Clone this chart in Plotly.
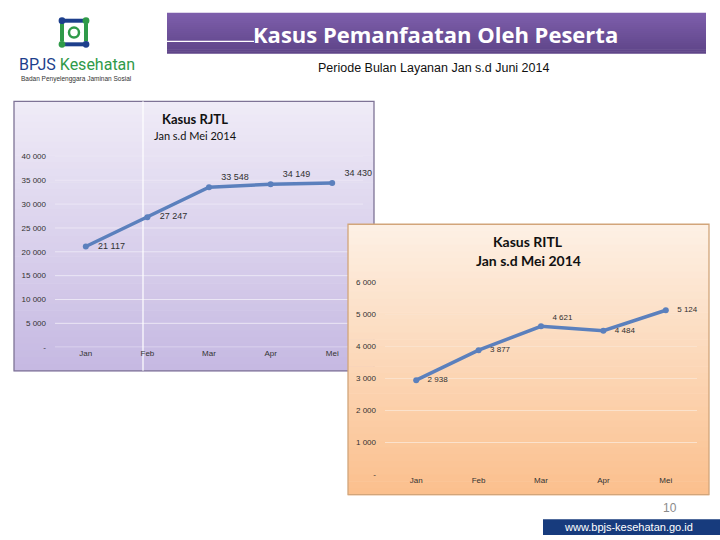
import plotly.graph_objects as go

W, H = 720, 540

months = ["Jan", "Feb", "Mar", "Apr", "Mei"]
rjtl = [21117, 27247, 33548, 34149, 34430]
ritl = [2938, 3877, 4621, 4484, 5124]
rjtl_ticks = [0, 5000, 10000, 15000, 20000, 25000, 30000, 35000, 40000]
ritl_ticks = [0, 1000, 2000, 3000, 4000, 5000, 6000]
rjtl_pos = ["middle right", "middle right", "top right", "top right", "top right"]
ritl_pos = ["middle right", "middle right", "top right", "middle right", "middle right"]


def fmt(v):
    return "-" if v == 0 else f"{v:,}".replace(",", " ")


def px(x):
    return x / W


def py(y):
    return 1 - y / H


def hexmix(c1, c2, t):
    a = [int(c1[i:i + 2], 16) for i in (1, 3, 5)]
    b = [int(c2[i:i + 2], 16) for i in (1, 3, 5)]
    return "#" + "".join(f"{round(a[k] + (b[k] - a[k]) * t):02x}" for k in range(3))


shapes = []


def gradient_box(x0, y0, x1, y1, ctop, cbot, n=40, border=None):
    h = (y1 - y0) / n
    for i in range(n):
        shapes.append(dict(type="rect", xref="paper", yref="paper",
                           x0=px(x0), x1=px(x1), y0=py(y0 + i * h), y1=py(y0 + (i + 1) * h + 0.6),
                           fillcolor=hexmix(ctop, cbot, i / (n - 1)), line=dict(width=0), layer="below"))
    if border:
        shapes.append(dict(type="rect", xref="paper", yref="paper",
                           x0=px(x0), x1=px(x1), y0=py(y0), y1=py(y1),
                           fillcolor="rgba(0,0,0,0)", line=dict(color=border, width=1.3), layer="below"))


# title bar
gradient_box(167, 9, 706, 50, "#7d5eab", "#5f4589", n=20)
shapes.append(dict(type="line", xref="paper", yref="paper", x0=px(167), x1=px(254), y0=py(38), y1=py(38),
                   line=dict(color="white", width=1.2), layer="below"))

# chart 1 background
gradient_box(14, 99, 374, 373, "#efebf7", "#c6b9e2", n=40, border="#7e7396")
# chart 1 gridlines (drawn as shapes so chart 2 can cover them)
for v in rjtl_ticks:
    shapes.append(dict(type="line", xref="paper", yref="y", x0=px(55), x1=px(363), y0=v, y1=v,
                       line=dict(color="#ebe6f5", width=1), layer="below"))
# white vertical line artefact
shapes.append(dict(type="line", xref="paper", yref="paper", x0=px(143), x1=px(143), y0=py(99), y1=py(373),
                   line=dict(color="white", width=1.2), layer="below"))

# chart 2 background
gradient_box(348, 224, 709, 499, "#fdf0e4", "#fbc08e", n=40, border="#d2a57a")

# footer bar
shapes.append(dict(type="rect", xref="paper", yref="paper", x0=px(543), x1=px(720), y0=py(524), y1=py(540),
                   fillcolor="#173b7d", line=dict(width=0), layer="below"))

# logo icon
cx, cy = 74, 29
navy, green = "#1d3f8c", "#2f9a49"


def circ(x, y, r, color, fill=True, lw=0):
    shapes.append(dict(type="circle", xref="paper", yref="paper",
                       x0=px(x - r), x1=px(x + r), y0=py(y - r), y1=py(y + r),
                       fillcolor=color if fill else "rgba(0,0,0,0)",
                       line=dict(color=color, width=lw), layer="below"))


for (x0, y0, x1, y1, col) in [(-9, -12, 9, -12, navy), (12, -9, 12, 9, green),
                              (9, 12, -9, 12, navy), (-12, 9, -12, -9, green)]:
    shapes.append(dict(type="line", xref="paper", yref="paper",
                       x0=px(cx + x0), x1=px(cx + x1), y0=py(cy + y0), y1=py(cy + y1),
                       line=dict(color=col, width=4), layer="below"))
for (dx, dy, col) in [(-12, -12, navy), (12, -12, green), (-12, 12, green), (12, 12, navy)]:
    circ(cx + dx, cy + dy, 3.4, col)
circ(cx, cy, 5, green, fill=False, lw=2.5)

fig = go.Figure()

fig.add_trace(go.Scatter(
    x=months, y=rjtl, mode="lines+markers+text",
    line=dict(color="#5b80bd", width=3.5), marker=dict(size=6, color="#5b80bd"),
    text=["   " + fmt(v) for v in rjtl], textposition=rjtl_pos,
    textfont=dict(size=9, color="#303030", family="Liberation Sans"),
    xaxis="x", yaxis="y", cliponaxis=False, showlegend=False, hoverinfo="skip"))

fig.add_trace(go.Scatter(
    x=months, y=ritl, mode="lines+markers+text",
    line=dict(color="#5b80bd", width=3.5), marker=dict(size=6, color="#5b80bd"),
    text=["   " + fmt(v) for v in ritl], textposition=ritl_pos,
    textfont=dict(size=8, color="#303030", family="Liberation Sans"),
    xaxis="x2", yaxis="y2", cliponaxis=False, showlegend=False, hoverinfo="skip"))

tickfont = dict(size=8, color="#333333", family="Liberation Sans")

annotations = [
    dict(text="<b>Kasus Pemanfaatan Oleh Peserta</b>", x=px(436), y=py(30), xref="paper", yref="paper",
         showarrow=False, font=dict(size=22, color="white", family="Open Sans"), xanchor="center", yanchor="middle"),
    dict(text="Periode Bulan Layanan Jan s.d Juni 2014", x=px(433), y=py(65), xref="paper", yref="paper",
         showarrow=False, font=dict(size=12.5, color="#111111", family="Liberation Sans"), xanchor="center", yanchor="middle"),
    dict(text="<b>Kasus RJTL</b>", x=px(195), y=py(117), xref="paper", yref="paper",
         showarrow=False, font=dict(size=13, color="#111111", family="Lato"), xanchor="center", yanchor="middle"),
    dict(text="Jan s.d Mei 2014", x=px(195), y=py(134), xref="paper", yref="paper",
         showarrow=False, font=dict(size=11, color="#111111", family="Lato"), xanchor="center", yanchor="middle"),
    dict(text="<b>Kasus RITL</b>", x=px(528), y=py(242), xref="paper", yref="paper",
         showarrow=False, font=dict(size=14, color="#111111", family="Lato"), xanchor="center", yanchor="middle"),
    dict(text="<b>Jan s.d Mei 2014</b>", x=px(528), y=py(261), xref="paper", yref="paper",
         showarrow=False, font=dict(size=14, color="#111111", family="Lato"), xanchor="center", yanchor="middle"),
    dict(text="<span style='color:%s'>BPJS</span><span style='color:%s'> Kesehatan</span>" % (navy, green),
         x=px(17), y=py(62), xref="paper", yref="paper",
         showarrow=False, font=dict(size=16, family="Roboto"), xanchor="left", yanchor="middle"),
    dict(text="Badan Penyelenggara Jaminan Sosial", x=px(19), y=py(76), xref="paper", yref="paper",
         showarrow=False, font=dict(size=6.5, color="#333333", family="Liberation Sans"), xanchor="left", yanchor="middle"),
    dict(text="10", x=px(670), y=py(513), xref="paper", yref="paper",
         showarrow=False, font=dict(size=12, color="#8a8a8a", family="Liberation Sans"), xanchor="center", yanchor="middle"),
    dict(text="www.bpjs-kesehatan.go.id", x=px(628), y=py(532), xref="paper", yref="paper",
         showarrow=False, font=dict(size=11, color="white", family="Liberation Sans"), xanchor="center", yanchor="middle"),
]

fig.update_layout(
    width=W, height=H, margin=dict(l=0, r=0, t=0, b=0),
    paper_bgcolor="white", plot_bgcolor="rgba(0,0,0,0)",
    shapes=shapes, annotations=annotations,
    xaxis=dict(domain=[px(55), px(363)], type="category", range=[-0.5, 4.5], showgrid=False, zeroline=False,
               showline=False, tickfont=tickfont, ticks="", fixedrange=True),
    yaxis=dict(domain=[py(349), py(155)], range=[0, 40000], showgrid=False, zeroline=False, showline=False,
               tickvals=rjtl_ticks, ticktext=[fmt(v) for v in rjtl_ticks], tickfont=tickfont, ticks="",
               anchor="x", ticklabelstandoff=8),
    xaxis2=dict(domain=[px(385), px(697)], type="category", range=[-0.5, 4.5], showgrid=False, zeroline=False,
                showline=False, tickfont=tickfont, ticks="", anchor="y2"),
    yaxis2=dict(domain=[py(478), py(283)], range=[0, 6000], showgrid=True, gridcolor="#fbe2cc", gridwidth=1,
                zeroline=False, showline=False,
                tickvals=ritl_ticks, ticktext=[fmt(v) for v in ritl_ticks], tickfont=tickfont, ticks="",
                anchor="x2", ticklabelstandoff=8),
)

fig.write_html("out.html")
